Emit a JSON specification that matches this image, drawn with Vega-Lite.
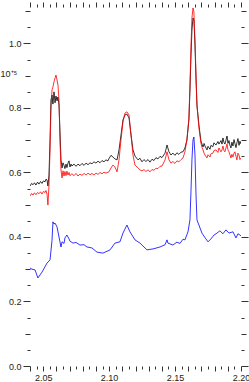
{
  "$schema": "https://vega.github.io/schema/vega-lite/v6.json",
  "width": 211,
  "height": 359,
  "autosize": "none",
  "padding": {"left": 30, "top": 7, "right": 8, "bottom": 16},
  "background": "white",
  "config": {"view": {"stroke": null}, "axis": {"grid": false, "domain": false, "tickColor": "#333", "labelColor": "#222", "labelFont": "Liberation Sans", "labelFontSize": 9, "labelOverlap": false, "labelFlush": false, "labelBound": false, "tickWidth": 1}},
  "datasets": {
    "spec": [
      {"s":"a","w":2.0400,"f":0.558},{"s":"a","w":2.0412,"f":0.566},{"s":"a","w":2.0423,"f":0.562},{"s":"a","w":2.0434,"f":0.568},{"s":"a","w":2.0445,"f":0.561},{"s":"a","w":2.0457,"f":0.570},{"s":"a","w":2.0468,"f":0.564},{"s":"a","w":2.0480,"f":0.572},{"s":"a","w":2.0491,"f":0.566},{"s":"a","w":2.0502,"f":0.574},{"s":"a","w":2.0514,"f":0.571},{"s":"a","w":2.0521,"f":0.579},{"s":"a","w":2.0529,"f":0.577},{"s":"a","w":2.0536,"f":0.558},{"s":"a","w":2.0544,"f":0.592},{"s":"a","w":2.0552,"f":0.701},{"s":"a","w":2.0559,"f":0.825},{"s":"a","w":2.0567,"f":0.840},{"s":"a","w":2.0574,"f":0.812},{"s":"a","w":2.0582,"f":0.850},{"s":"a","w":2.0590,"f":0.816},{"s":"a","w":2.0597,"f":0.837},{"s":"a","w":2.0605,"f":0.822},{"s":"a","w":2.0612,"f":0.834},{"s":"a","w":2.0620,"f":0.809},{"s":"a","w":2.0627,"f":0.732},{"s":"a","w":2.0635,"f":0.639},{"s":"a","w":2.0643,"f":0.614},{"s":"a","w":2.0650,"f":0.630},{"s":"a","w":2.0658,"f":0.622},{"s":"a","w":2.0665,"f":0.612},{"s":"a","w":2.0673,"f":0.626},{"s":"a","w":2.0680,"f":0.615},{"s":"a","w":2.0688,"f":0.629},{"s":"a","w":2.0696,"f":0.636},{"s":"a","w":2.0703,"f":0.617},{"s":"a","w":2.0711,"f":0.626},{"s":"a","w":2.0718,"f":0.620},{"s":"a","w":2.0734,"f":0.626},{"s":"a","w":2.0749,"f":0.619},{"s":"a","w":2.0764,"f":0.626},{"s":"a","w":2.0779,"f":0.621},{"s":"a","w":2.0794,"f":0.628},{"s":"a","w":2.0810,"f":0.622},{"s":"a","w":2.0825,"f":0.629},{"s":"a","w":2.0840,"f":0.624},{"s":"a","w":2.0855,"f":0.630},{"s":"a","w":2.0870,"f":0.627},{"s":"a","w":2.0885,"f":0.633},{"s":"a","w":2.0900,"f":0.629},{"s":"a","w":2.0916,"f":0.635},{"s":"a","w":2.0931,"f":0.630},{"s":"a","w":2.0946,"f":0.637},{"s":"a","w":2.0961,"f":0.633},{"s":"a","w":2.0976,"f":0.639},{"s":"a","w":2.0991,"f":0.636},{"s":"a","w":2.0999,"f":0.643},{"s":"a","w":2.1014,"f":0.653},{"s":"a","w":2.1029,"f":0.648},{"s":"a","w":2.1044,"f":0.642},{"s":"a","w":2.1060,"f":0.639},{"s":"a","w":2.1075,"f":0.670},{"s":"a","w":2.1090,"f":0.716},{"s":"a","w":2.1105,"f":0.763},{"s":"a","w":2.1120,"f":0.778},{"s":"a","w":2.1135,"f":0.781},{"s":"a","w":2.1151,"f":0.769},{"s":"a","w":2.1166,"f":0.716},{"s":"a","w":2.1181,"f":0.670},{"s":"a","w":2.1196,"f":0.651},{"s":"a","w":2.1219,"f":0.639},{"s":"a","w":2.1234,"f":0.644},{"s":"a","w":2.1249,"f":0.633},{"s":"a","w":2.1264,"f":0.640},{"s":"a","w":2.1279,"f":0.634},{"s":"a","w":2.1295,"f":0.640},{"s":"a","w":2.1310,"f":0.632},{"s":"a","w":2.1325,"f":0.641},{"s":"a","w":2.1340,"f":0.637},{"s":"a","w":2.1355,"f":0.646},{"s":"a","w":2.1370,"f":0.642},{"s":"a","w":2.1386,"f":0.650},{"s":"a","w":2.1401,"f":0.646},{"s":"a","w":2.1424,"f":0.660},{"s":"a","w":2.1439,"f":0.685},{"s":"a","w":2.1454,"f":0.664},{"s":"a","w":2.1469,"f":0.654},{"s":"a","w":2.1484,"f":0.660},{"s":"a","w":2.1499,"f":0.653},{"s":"a","w":2.1514,"f":0.661},{"s":"a","w":2.1529,"f":0.656},{"s":"a","w":2.1545,"f":0.663},{"s":"a","w":2.1560,"f":0.664},{"s":"a","w":2.1575,"f":0.676},{"s":"a","w":2.1590,"f":0.701},{"s":"a","w":2.1605,"f":0.763},{"s":"a","w":2.1613,"f":0.856},{"s":"a","w":2.1621,"f":0.964},{"s":"a","w":2.1628,"f":1.042},{"s":"a","w":2.1636,"f":1.079},{"s":"a","w":2.1643,"f":1.073},{"s":"a","w":2.1651,"f":0.995},{"s":"a","w":2.1659,"f":0.887},{"s":"a","w":2.1666,"f":0.809},{"s":"a","w":2.1681,"f":0.747},{"s":"a","w":2.1696,"f":0.698},{"s":"a","w":2.1704,"f":0.688},{"s":"a","w":2.1712,"f":0.679},{"s":"a","w":2.1720,"f":0.690},{"s":"a","w":2.1727,"f":0.682},{"s":"a","w":2.1742,"f":0.670},{"s":"a","w":2.1750,"f":0.681},{"s":"a","w":2.1765,"f":0.672},{"s":"a","w":2.1772,"f":0.684},{"s":"a","w":2.1787,"f":0.680},{"s":"a","w":2.1795,"f":0.692},{"s":"a","w":2.1810,"f":0.685},{"s":"a","w":2.1825,"f":0.696},{"s":"a","w":2.1833,"f":0.688},{"s":"a","w":2.1848,"f":0.699},{"s":"a","w":2.1856,"f":0.688},{"s":"a","w":2.1863,"f":0.707},{"s":"a","w":2.1871,"f":0.693},{"s":"a","w":2.1878,"f":0.688},{"s":"a","w":2.1886,"f":0.700},{"s":"a","w":2.1894,"f":0.713},{"s":"a","w":2.1901,"f":0.690},{"s":"a","w":2.1909,"f":0.699},{"s":"a","w":2.1916,"f":0.684},{"s":"a","w":2.1924,"f":0.676},{"s":"a","w":2.1931,"f":0.694},{"s":"a","w":2.1939,"f":0.682},{"s":"a","w":2.1947,"f":0.702},{"s":"a","w":2.1954,"f":0.690},{"s":"a","w":2.1962,"f":0.677},{"s":"a","w":2.1969,"f":0.692},{"s":"a","w":2.1977,"f":0.705},{"s":"a","w":2.1985,"f":0.684},{"s":"a","w":2.1992,"f":0.697},{"s":"a","w":2.2000,"f":0.688},
      {"s":"b","w":2.0400,"f":0.527},{"s":"b","w":2.0412,"f":0.535},{"s":"b","w":2.0423,"f":0.530},{"s":"b","w":2.0434,"f":0.537},{"s":"b","w":2.0445,"f":0.531},{"s":"b","w":2.0457,"f":0.538},{"s":"b","w":2.0468,"f":0.534},{"s":"b","w":2.0480,"f":0.540},{"s":"b","w":2.0491,"f":0.533},{"s":"b","w":2.0502,"f":0.541},{"s":"b","w":2.0514,"f":0.538},{"s":"b","w":2.0521,"f":0.544},{"s":"b","w":2.0529,"f":0.533},{"s":"b","w":2.0536,"f":0.499},{"s":"b","w":2.0544,"f":0.561},{"s":"b","w":2.0552,"f":0.670},{"s":"b","w":2.0559,"f":0.794},{"s":"b","w":2.0567,"f":0.856},{"s":"b","w":2.0574,"f":0.865},{"s":"b","w":2.0582,"f":0.881},{"s":"b","w":2.0590,"f":0.893},{"s":"b","w":2.0597,"f":0.902},{"s":"b","w":2.0605,"f":0.887},{"s":"b","w":2.0612,"f":0.871},{"s":"b","w":2.0620,"f":0.825},{"s":"b","w":2.0627,"f":0.701},{"s":"b","w":2.0635,"f":0.608},{"s":"b","w":2.0643,"f":0.583},{"s":"b","w":2.0650,"f":0.605},{"s":"b","w":2.0658,"f":0.589},{"s":"b","w":2.0665,"f":0.603},{"s":"b","w":2.0673,"f":0.590},{"s":"b","w":2.0680,"f":0.604},{"s":"b","w":2.0688,"f":0.592},{"s":"b","w":2.0696,"f":0.600},{"s":"b","w":2.0703,"f":0.590},{"s":"b","w":2.0718,"f":0.596},{"s":"b","w":2.0734,"f":0.590},{"s":"b","w":2.0749,"f":0.597},{"s":"b","w":2.0764,"f":0.589},{"s":"b","w":2.0779,"f":0.595},{"s":"b","w":2.0794,"f":0.591},{"s":"b","w":2.0810,"f":0.597},{"s":"b","w":2.0825,"f":0.592},{"s":"b","w":2.0840,"f":0.598},{"s":"b","w":2.0855,"f":0.593},{"s":"b","w":2.0870,"f":0.597},{"s":"b","w":2.0885,"f":0.592},{"s":"b","w":2.0900,"f":0.598},{"s":"b","w":2.0916,"f":0.594},{"s":"b","w":2.0931,"f":0.600},{"s":"b","w":2.0946,"f":0.596},{"s":"b","w":2.0961,"f":0.601},{"s":"b","w":2.0976,"f":0.598},{"s":"b","w":2.0999,"f":0.602},{"s":"b","w":2.1014,"f":0.614},{"s":"b","w":2.1029,"f":0.623},{"s":"b","w":2.1044,"f":0.617},{"s":"b","w":2.1060,"f":0.602},{"s":"b","w":2.1075,"f":0.639},{"s":"b","w":2.1090,"f":0.701},{"s":"b","w":2.1105,"f":0.757},{"s":"b","w":2.1120,"f":0.784},{"s":"b","w":2.1135,"f":0.788},{"s":"b","w":2.1151,"f":0.778},{"s":"b","w":2.1166,"f":0.716},{"s":"b","w":2.1181,"f":0.654},{"s":"b","w":2.1196,"f":0.623},{"s":"b","w":2.1219,"f":0.614},{"s":"b","w":2.1234,"f":0.608},{"s":"b","w":2.1249,"f":0.605},{"s":"b","w":2.1264,"f":0.609},{"s":"b","w":2.1279,"f":0.603},{"s":"b","w":2.1295,"f":0.608},{"s":"b","w":2.1310,"f":0.602},{"s":"b","w":2.1325,"f":0.609},{"s":"b","w":2.1340,"f":0.607},{"s":"b","w":2.1355,"f":0.613},{"s":"b","w":2.1370,"f":0.612},{"s":"b","w":2.1386,"f":0.619},{"s":"b","w":2.1401,"f":0.620},{"s":"b","w":2.1424,"f":0.639},{"s":"b","w":2.1439,"f":0.664},{"s":"b","w":2.1454,"f":0.639},{"s":"b","w":2.1469,"f":0.629},{"s":"b","w":2.1484,"f":0.634},{"s":"b","w":2.1499,"f":0.628},{"s":"b","w":2.1514,"f":0.636},{"s":"b","w":2.1529,"f":0.633},{"s":"b","w":2.1545,"f":0.640},{"s":"b","w":2.1560,"f":0.645},{"s":"b","w":2.1575,"f":0.664},{"s":"b","w":2.1590,"f":0.701},{"s":"b","w":2.1605,"f":0.769},{"s":"b","w":2.1613,"f":0.871},{"s":"b","w":2.1621,"f":0.995},{"s":"b","w":2.1628,"f":1.079},{"s":"b","w":2.1636,"f":1.110},{"s":"b","w":2.1643,"f":1.098},{"s":"b","w":2.1651,"f":1.011},{"s":"b","w":2.1659,"f":0.902},{"s":"b","w":2.1666,"f":0.809},{"s":"b","w":2.1681,"f":0.738},{"s":"b","w":2.1696,"f":0.691},{"s":"b","w":2.1704,"f":0.678},{"s":"b","w":2.1712,"f":0.670},{"s":"b","w":2.1720,"f":0.660},{"s":"b","w":2.1727,"f":0.654},{"s":"b","w":2.1742,"f":0.645},{"s":"b","w":2.1750,"f":0.655},{"s":"b","w":2.1765,"f":0.648},{"s":"b","w":2.1772,"f":0.658},{"s":"b","w":2.1787,"f":0.660},{"s":"b","w":2.1795,"f":0.668},{"s":"b","w":2.1810,"f":0.670},{"s":"b","w":2.1825,"f":0.662},{"s":"b","w":2.1833,"f":0.676},{"s":"b","w":2.1848,"f":0.664},{"s":"b","w":2.1856,"f":0.670},{"s":"b","w":2.1863,"f":0.682},{"s":"b","w":2.1871,"f":0.668},{"s":"b","w":2.1878,"f":0.664},{"s":"b","w":2.1886,"f":0.676},{"s":"b","w":2.1894,"f":0.688},{"s":"b","w":2.1901,"f":0.670},{"s":"b","w":2.1909,"f":0.664},{"s":"b","w":2.1916,"f":0.655},{"s":"b","w":2.1924,"f":0.645},{"s":"b","w":2.1931,"f":0.656},{"s":"b","w":2.1939,"f":0.648},{"s":"b","w":2.1947,"f":0.660},{"s":"b","w":2.1954,"f":0.664},{"s":"b","w":2.1962,"f":0.650},{"s":"b","w":2.1969,"f":0.639},{"s":"b","w":2.1977,"f":0.660},{"s":"b","w":2.1985,"f":0.654},{"s":"b","w":2.1992,"f":0.640},{"s":"b","w":2.2000,"f":0.645},
      {"s":"c","w":2.0400,"f":0.304},{"s":"c","w":2.0415,"f":0.300},{"s":"c","w":2.0438,"f":0.298},{"s":"c","w":2.0460,"f":0.273},{"s":"c","w":2.0491,"f":0.291},{"s":"c","w":2.0529,"f":0.319},{"s":"c","w":2.0552,"f":0.329},{"s":"c","w":2.0567,"f":0.390},{"s":"c","w":2.0574,"f":0.447},{"s":"c","w":2.0582,"f":0.440},{"s":"c","w":2.0590,"f":0.443},{"s":"c","w":2.0605,"f":0.431},{"s":"c","w":2.0620,"f":0.400},{"s":"c","w":2.0635,"f":0.369},{"s":"c","w":2.0643,"f":0.385},{"s":"c","w":2.0658,"f":0.380},{"s":"c","w":2.0665,"f":0.397},{"s":"c","w":2.0680,"f":0.406},{"s":"c","w":2.0696,"f":0.394},{"s":"c","w":2.0703,"f":0.387},{"s":"c","w":2.0726,"f":0.381},{"s":"c","w":2.0749,"f":0.383},{"s":"c","w":2.0779,"f":0.375},{"s":"c","w":2.0810,"f":0.376},{"s":"c","w":2.0832,"f":0.369},{"s":"c","w":2.0870,"f":0.366},{"s":"c","w":2.0908,"f":0.353},{"s":"c","w":2.0953,"f":0.350},{"s":"c","w":2.1007,"f":0.360},{"s":"c","w":2.1044,"f":0.381},{"s":"c","w":2.1082,"f":0.385},{"s":"c","w":2.1105,"f":0.412},{"s":"c","w":2.1135,"f":0.437},{"s":"c","w":2.1158,"f":0.416},{"s":"c","w":2.1196,"f":0.391},{"s":"c","w":2.1234,"f":0.381},{"s":"c","w":2.1287,"f":0.360},{"s":"c","w":2.1333,"f":0.363},{"s":"c","w":2.1386,"f":0.369},{"s":"c","w":2.1424,"f":0.376},{"s":"c","w":2.1439,"f":0.391},{"s":"c","w":2.1446,"f":0.381},{"s":"c","w":2.1484,"f":0.375},{"s":"c","w":2.1514,"f":0.384},{"s":"c","w":2.1537,"f":0.380},{"s":"c","w":2.1560,"f":0.393},{"s":"c","w":2.1575,"f":0.391},{"s":"c","w":2.1598,"f":0.416},{"s":"c","w":2.1613,"f":0.453},{"s":"c","w":2.1621,"f":0.546},{"s":"c","w":2.1628,"f":0.639},{"s":"c","w":2.1636,"f":0.701},{"s":"c","w":2.1643,"f":0.710},{"s":"c","w":2.1651,"f":0.654},{"s":"c","w":2.1659,"f":0.530},{"s":"c","w":2.1666,"f":0.453},{"s":"c","w":2.1704,"f":0.412},{"s":"c","w":2.1727,"f":0.398},{"s":"c","w":2.1750,"f":0.385},{"s":"c","w":2.1772,"f":0.394},{"s":"c","w":2.1795,"f":0.406},{"s":"c","w":2.1818,"f":0.412},{"s":"c","w":2.1840,"f":0.419},{"s":"c","w":2.1863,"f":0.410},{"s":"c","w":2.1886,"f":0.422},{"s":"c","w":2.1909,"f":0.412},{"s":"c","w":2.1939,"f":0.416},{"s":"c","w":2.1962,"f":0.397},{"s":"c","w":2.1977,"f":0.410},{"s":"c","w":2.1992,"f":0.406},{"s":"c","w":2.2000,"f":0.403}
    ]
  },
  "data": {"name": "spec"},
  "layer": [
    {
      "mark": {"type": "line", "strokeWidth": 0.8, "clip": true},
      "encoding": {
        "x": {"field": "w", "type": "quantitative", "scale": {"domain": [2.04, 2.2], "nice": false, "zero": false},
          "axis": {"orient": "bottom", "title": null, "values": [2.04,2.045,2.05,2.055,2.06,2.065,2.07,2.075,2.08,2.085,2.09,2.095,2.1,2.105,2.11,2.115,2.12,2.125,2.13,2.135,2.14,2.145,2.15,2.155,2.16,2.165,2.17,2.175,2.18,2.185,2.19,2.195,2.2],
            "labelExpr": "abs(datum.value*20 - round(datum.value*20)) < 0.001 ? format(datum.value, '.2f') : ''",
            "labelPadding": 2,
            "tickSize": {"condition": {"test": "abs(datum.value*100 - round(datum.value*100)) < 0.01", "value": 5}, "value": 3}}},
        "y": {"field": "f", "type": "quantitative", "scale": {"domain": [0, 1.113], "nice": false},
          "axis": {"orient": "left", "title": "10⁺⁵", "titleAngle": 0, "titleAlign": "left", "titleBaseline": "middle", "titleX": -30, "titleY": 66, "titleFont": "Liberation Sans", "titleFontSize": 9, "titleFontWeight": "normal", "titleColor": "#222",
            "values": [0,0.05,0.1,0.15,0.2,0.25,0.3,0.35,0.4,0.45,0.5,0.55,0.6,0.65,0.7,0.75,0.8,0.85,0.9,0.95,1.0,1.05,1.1],
            "labelExpr": "abs(datum.value*5 - round(datum.value*5)) < 0.001 ? format(datum.value, '.1f') : ''",
            "labelPadding": 2,
            "tickSize": {"condition": [{"test": "abs(datum.value*5 - round(datum.value*5)) < 0.001", "value": 7}, {"test": "abs(datum.value*10 - round(datum.value*10)) < 0.001", "value": 5}], "value": 3}}},
        "color": {"field": "s", "type": "nominal", "scale": {"domain": ["a", "b", "c"], "range": ["#000000", "#ff0000", "#0000ff"]}, "legend": null}
      }
    },
    {
      "mark": {"type": "line", "opacity": 0},
      "encoding": {
        "x": {"field": "w", "type": "quantitative",
          "axis": {"orient": "top", "title": null, "labels": false, "values": [2.04,2.045,2.05,2.055,2.06,2.065,2.07,2.075,2.08,2.085,2.09,2.095,2.1,2.105,2.11,2.115,2.12,2.125,2.13,2.135,2.14,2.145,2.15,2.155,2.16,2.165,2.17,2.175,2.18,2.185,2.19,2.195,2.2],
            "tickSize": {"condition": {"test": "abs(datum.value*100 - round(datum.value*100)) < 0.01", "value": 5}, "value": 3}}},
        "y": {"field": "f", "type": "quantitative",
          "axis": {"orient": "right", "title": null, "labels": false,
            "values": [0,0.05,0.1,0.15,0.2,0.25,0.3,0.35,0.4,0.45,0.5,0.55,0.6,0.65,0.7,0.75,0.8,0.85,0.9,0.95,1.0,1.05,1.1],
            "tickSize": {"condition": [{"test": "abs(datum.value*5 - round(datum.value*5)) < 0.001", "value": 7}, {"test": "abs(datum.value*10 - round(datum.value*10)) < 0.001", "value": 5}], "value": 3}}},
        "detail": {"field": "s", "type": "nominal"}
      }
    }
  ]
}
